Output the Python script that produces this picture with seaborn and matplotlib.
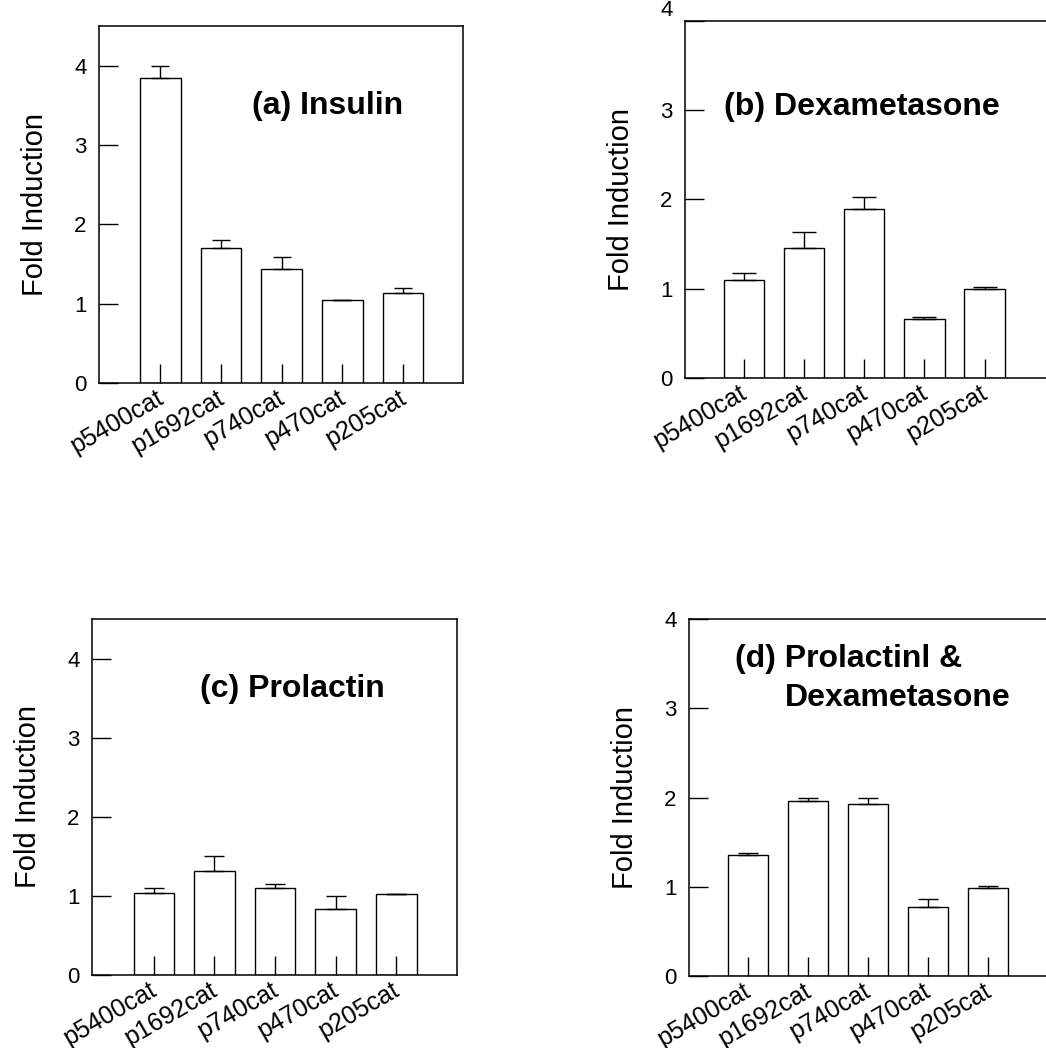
import numpy as np
import matplotlib
matplotlib.use("Agg")
import matplotlib.pyplot as plt
import matplotlib.transforms as mtransforms
import seaborn as sns

# ---------------- data ----------------
constructs = ["p5400cat", "p1692cat", "p740cat", "p470cat", "p205cat"]

insulin_mean = [3.85, 1.70, 1.44, 1.04, 1.14]
insulin_err = [0.15, 0.10, 0.15, 0.0, 0.06]

dexa_mean = [1.10, 1.46, 1.89, 0.66, 1.00]
dexa_err = [0.07, 0.17, 0.14, 0.02, 0.015]

prl_mean = [1.04, 1.31, 1.095, 0.84, 1.02]
prl_err = [0.055, 0.19, 0.05, 0.16, 0.0]

prl_dexa_mean = [1.35, 1.96, 1.93, 0.77, 0.98]
prl_dexa_err = [0.03, 0.04, 0.06, 0.09, 0.03]

panel_titles = [["(a) Insulin"], ["(b) Dexametasone"], ["(c) Prolactin"],
                ["(d) Prolactinl &", "Dexametasone"]]
y_label = "Fold Induction"
y_ticks = [0, 1, 2, 3, 4]

# ---------------- style ----------------
sns.set_style("white")
plt.rcParams['font.family'] = ['Liberation Sans', 'DejaVu Sans']
plt.rcParams['axes.axisbelow'] = False
plt.rcParams['text.color'] = 'black'
plt.rcParams['axes.labelcolor'] = 'black'
plt.rcParams['xtick.color'] = 'black'
plt.rcParams['ytick.color'] = 'black'

W, H = 1046, 1048
fig = plt.figure(figsize=(W / 100, H / 100), dpi=100)
fig.patch.set_facecolor("white")


def rect(left, top, right, bottom):
    return [left / W, 1 - bottom / H, (right - left) / W, (bottom - top) / H]


panels = [
    dict(means=insulin_mean, errs=insulin_err, box=(99, 26, 463, 383),
         xlim=(-1.01, 4.99), ylim=(0, 4.5), cap=6.8,
         title=[(252, 114)]),
    dict(means=dexa_mean, errs=dexa_err, box=(685, 20.7, 1082, 378),
         xlim=(-0.98, 5.62), ylim=(0, 4), cap=8.4,
         title=[(724, 115.5)]),
    dict(means=prl_mean, errs=prl_err, box=(92, 619, 457, 975),
         xlim=(-1.02, 5.0), ylim=(0, 4.5), cap=7.2,
         title=[(200, 696.5)]),
    dict(means=prl_dexa_mean, errs=prl_dexa_err, box=(689, 619.3, 1084, 975.7),
         xlim=(-0.98, 5.6), ylim=(0, 4), cap=7.2,
         title=[(735, 667.5), (785, 705.5)]),
]

shift = mtransforms.ScaledTranslation(-5 / 100, 1 / 100, fig.dpi_scale_trans)

for i, p in enumerate(panels):
    l, t, r, b = p["box"]
    ax = fig.add_axes(rect(l, t, r, b))
    sns.barplot(x=constructs, y=p["means"], ax=ax, color="white",
                edgecolor="black", linewidth=1.0, width=0.67,
                errorbar=None, saturation=1)
    pos = np.arange(len(constructs))
    ax.errorbar(pos, p["means"],
                yerr=[np.zeros(len(pos)), p["errs"]],
                fmt="none", ecolor="black", elinewidth=1.0,
                capsize=p["cap"], capthick=1.0, zorder=3)
    ax.set_xlim(*p["xlim"])
    ax.set_ylim(*p["ylim"])
    ax.set_yticks(y_ticks)
    ax.set_yticklabels([str(v) for v in y_ticks])
    ax.set_xticks(pos)
    ax.set_xticklabels(constructs, rotation=30, ha="right",
                       rotation_mode="anchor", va="top")
    ax.tick_params(axis="both", direction="in", length=13.5, width=1.0,
                   colors="black", labelcolor="black",
                   bottom=True, left=True, top=False, right=False)
    ax.tick_params(axis="y", labelsize=16, pad=9)
    ax.tick_params(axis="x", labelsize=18, pad=3)
    for lab in ax.get_xticklabels():
        lab.set_transform(lab.get_transform() + shift)
    for name, sp in ax.spines.items():
        sp.set_color("black")
        sp.set_linewidth(1.1)
        sp.set_visible(True)
    ax.set_facecolor("white")
    ax.grid(False)
    ax.set_ylabel(y_label, fontsize=21, color="black")
    ax.set_xlabel("")
    ax.yaxis.set_label_coords(-50 / (r - l), 0.5)
    if i == 1:
        ax.get_yticklabels()[-1].set_va("bottom")
    for (tx, ty), line in zip(p["title"], panel_titles[i]):
        fig.text(tx / W, 1 - ty / H, line, fontsize=23, fontweight="bold",
                 ha="left", va="baseline", color="black")

fig.savefig("out.png", dpi=100, facecolor="white")
